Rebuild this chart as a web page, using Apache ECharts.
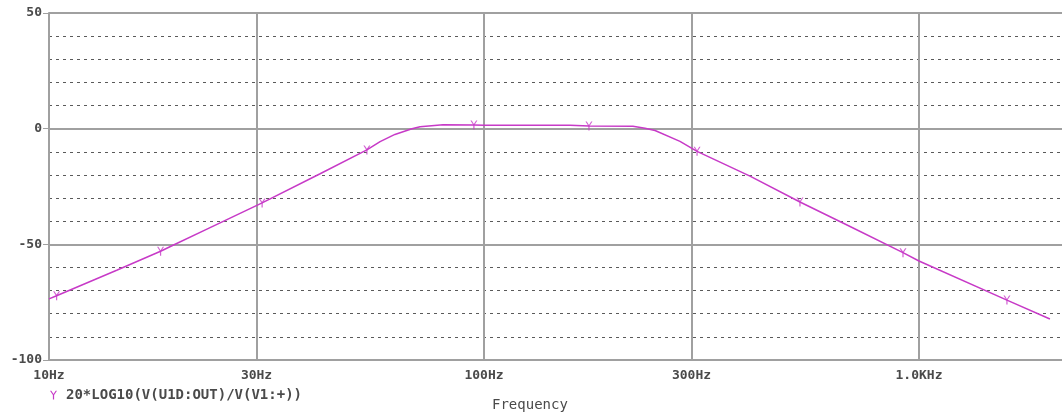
<!DOCTYPE html>
<html>
<head>
<meta charset="utf-8">
<script src="https://cdn.jsdelivr.net/npm/echarts@6/dist/echarts.min.js"></script>
<style>
  html, body { margin: 0; padding: 0; background: #fff; }
  #chart { width: 1062px; height: 412px; }
</style>
</head>
<body>
<div id="chart"></div>
<script>
// trace: 20*LOG10(V(U1D:OUT)/V(V1:+)) vs frequency
const freq = [10, 10.41, 14.31, 18.05, 19.28, 23.2, 30.9, 42.0, 53.8, 57.7, 62.4, 68.3, 71.3, 80.5, 94.8, 100,
              157.7, 174.3, 220, 234.5, 247.3, 282.2, 308.9, 408.8, 532.6, 700, 918.8, 1000, 1593, 2000];
const gainDb = [-73.6, -72.2, -61.2, -53.0, -50.4, -43.2, -32.1, -19.5, -9.2, -5.6, -2.5, 0, 0.8, 1.7, 1.6, 1.5,
                1.5, 1.1, 1.0, 0.2, -0.8, -5.5, -9.8, -20.5, -31.7, -42.6, -53.6, -57.2, -74.1, -82.3];

// trace symbol positions ("Y" markers)
const markerFreq = [10.41, 18.05, 30.9, 53.8, 94.8, 174.3, 308.9, 532.6, 918.8, 1593];
const markerDb = [-72.2, -53.0, -32.1, -9.2, 1.6, 1.1, -9.8, -31.7, -53.6, -74.1];

const xTicks = [10, 30, 100, 300, 1000];
const xTickText = ['10Hz', '30Hz', '100Hz', '300Hz', '1.0KHz'];
const traceName = '20*LOG10(V(U1D:OUT)/V(V1:+))';

const Y_PATH = 'path://M0,0 L1.5,0 L4,3.8 L6.5,0 L8,0 L4.7,5 L4.7,10 L3.3,10 L3.3,5 Z';
const TRACE_COLOR = '#c73ac7';
const GRID_COLOR = '#a0a0a0';
const TEXT_COLOR = '#4a4a4a';
const FONT = '"DejaVu Sans Mono", "Liberation Mono", monospace';

const chart = echarts.init(document.getElementById('chart'));

function xLabel(v) {
    let best = 0;
    for (let i = 1; i < xTicks.length; i++) {
        if (Math.abs(Math.log10(v) - Math.log10(xTicks[i])) < Math.abs(Math.log10(v) - Math.log10(xTicks[best]))) best = i;
    }
    return xTickText[best];
}

chart.setOption({
    animation: false,
    backgroundColor: '#fff',
    textStyle: { fontFamily: FONT },
    title: {
        text: 'Frequency',
        left: 487,
        top: 393,
        textStyle: { fontFamily: FONT, fontSize: 14, fontWeight: 'normal', color: TEXT_COLOR }
    },
    legend: {
        left: 50,
        top: 388,
        padding: 0,
        itemWidth: 7,
        itemHeight: 9,
        data: [{ name: traceName, icon: Y_PATH }],
        textStyle: { fontFamily: FONT, fontSize: 14, fontWeight: 'bold', color: TEXT_COLOR, padding: [0, 0, 0, 4] }
    },
    grid: { left: 49, top: 13, right: 0, bottom: 52, containLabel: false },
    xAxis: {
        type: 'log',
        logBase: 10,
        min: 10,
        max: 2132,
        axisLine: { show: true, lineStyle: { color: GRID_COLOR, width: 2 } },
        axisTick: { show: true, length: 5, customValues: xTicks, lineStyle: { color: GRID_COLOR, width: 1 } },
        axisLabel: {
            customValues: xTicks,
            formatter: xLabel,
            margin: 9,
            fontFamily: FONT, fontSize: 13, fontWeight: 'bold', color: TEXT_COLOR
        },
        splitLine: { show: true, lineStyle: { color: GRID_COLOR, width: 2 } },
        minorTick: { show: false },
        minorSplitLine: { show: false }
    },
    yAxis: {
        type: 'value',
        min: -100,
        max: 50,
        interval: 50,
        axisLine: { show: true, lineStyle: { color: GRID_COLOR, width: 2 } },
        axisTick: { show: true, length: 6, lineStyle: { color: GRID_COLOR, width: 1 } },
        axisLabel: { margin: 7, fontFamily: FONT, fontSize: 13, fontWeight: 'bold', color: TEXT_COLOR },
        splitLine: { show: true, lineStyle: { color: GRID_COLOR, width: 2 } },
        minorTick: { show: false, splitNumber: 5 },
        minorSplitLine: { show: true, lineStyle: { color: '#5a5a5a', width: 1, type: [3, 4] } }
    },
    series: [
        {
            name: traceName,
            type: 'line',
            symbol: 'none',
            smooth: false,
            lineStyle: { color: TRACE_COLOR, width: 1.5 },
            itemStyle: { color: TRACE_COLOR },
            data: freq.map((f, i) => [f, gainDb[i]])
        },
        {
            name: 'markers',
            type: 'scatter',
            symbol: Y_PATH,
            symbolSize: [7, 9],
            itemStyle: { color: TRACE_COLOR },
            data: markerFreq.map((f, i) => [f, markerDb[i]])
        }
    ]
});
</script>
</body>
</html>
